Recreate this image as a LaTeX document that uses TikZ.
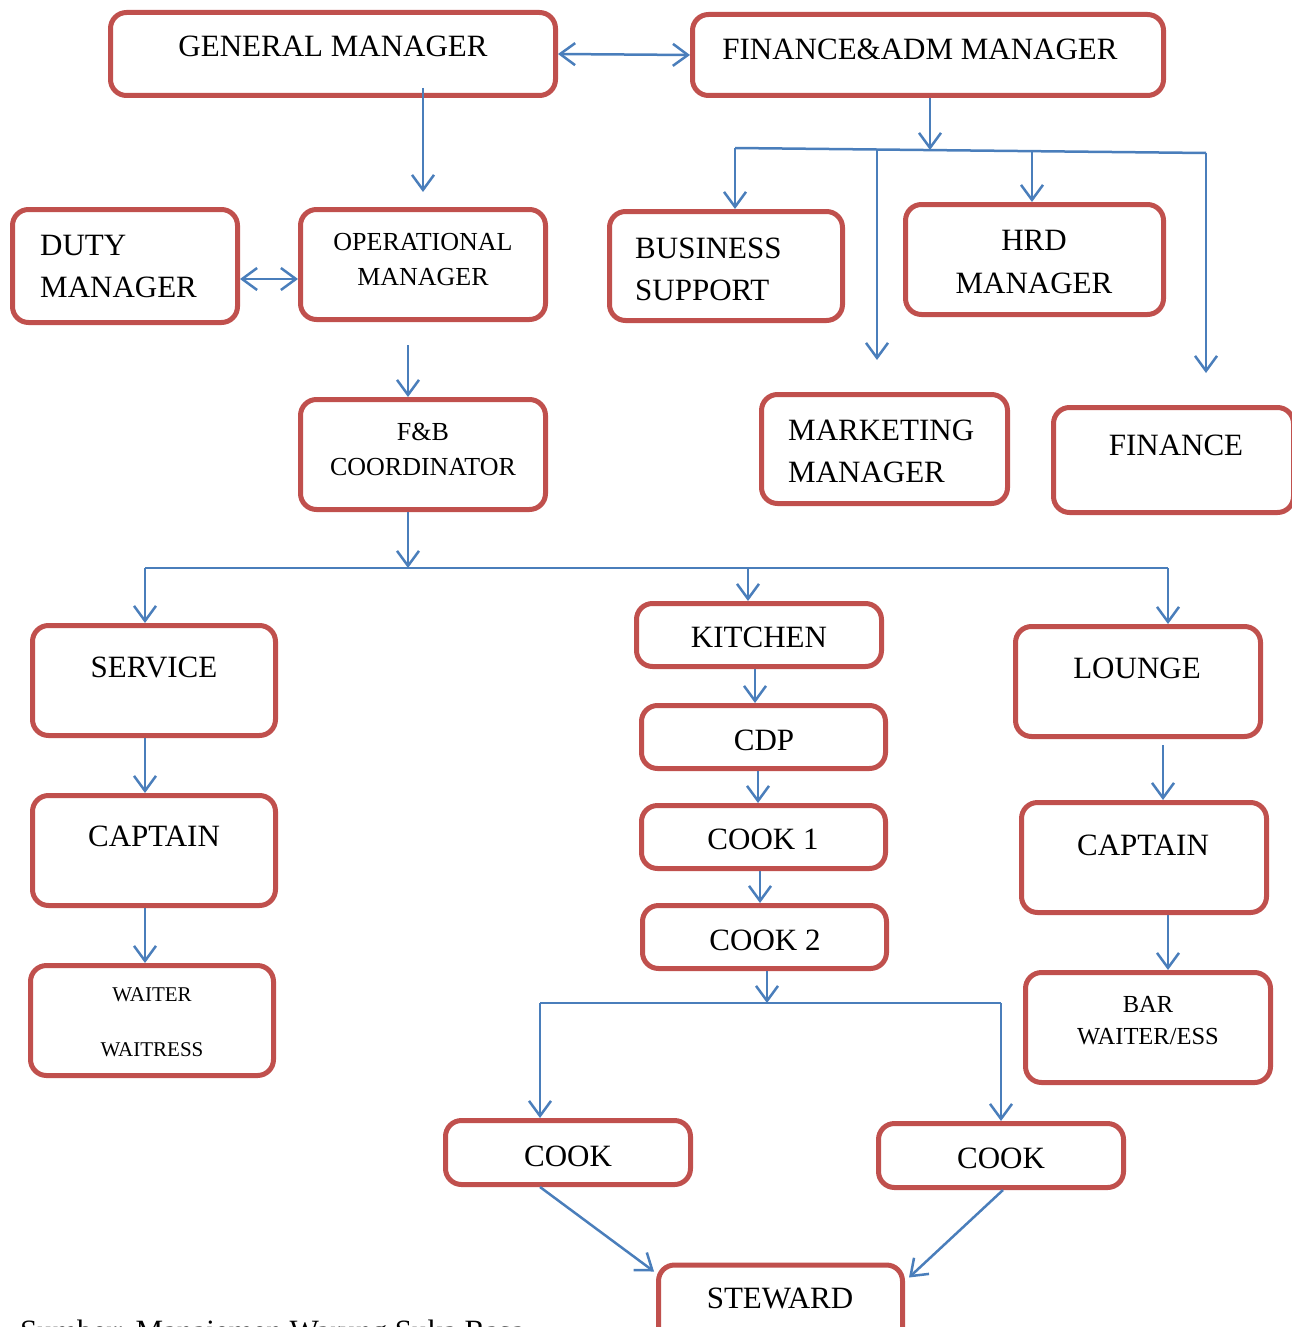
\documentclass[tikz,border=0pt]{standalone}
\usepackage{fontspec}
\setmainfont{Liberation Serif}
\usetikzlibrary{arrows.meta,calc}
\definecolor{boxred}{HTML}{C0504D}
\definecolor{arrblue}{HTML}{4A7EBB}
\tikzset{
  orgbox/.style={draw=boxred, line width=5pt, rounded corners=16pt, fill=white, inner sep=0pt},
  big/.style={inner sep=0pt, font=\fontsize{31}{37}\selectfont},
  mid/.style={inner sep=0pt, font=\fontsize{26}{31}\selectfont},
  small/.style={inner sep=0pt, font=\fontsize{21}{25}\selectfont},
  smallb/.style={inner sep=0pt, font=\fontsize{24.5}{29}\selectfont},
  link/.style={draw=arrblue, line width=2.5pt},
  linkarrow/.style={link, -{Straight Barb[length=15pt,width=22pt]}},
  linkboth/.style={link, {Straight Barb[length=15pt,width=22pt]}-{Straight Barb[length=15pt,width=22pt]}},
}
\begin{document}
\begin{tikzpicture}[x=1pt,y=-1pt]
\useasboundingbox (0,0) rectangle (1291,1327);

% ---------- boxes ----------
\node[orgbox, minimum width=445pt, minimum height=83pt] (gm) at (333,54) {};
\node[orgbox, minimum width=471pt, minimum height=81pt] (fin) at (928,55) {};
\node[orgbox, minimum width=225pt, minimum height=113pt] (dm) at (125,266) {};
\node[orgbox, minimum width=245pt, minimum height=110pt] (om) at (423,264.5) {};
\node[orgbox, minimum width=245pt, minimum height=110pt] (fb) at (423,454.5) {};
\node[orgbox, minimum width=233pt, minimum height=109pt] (bs) at (726,266) {};
\node[orgbox, minimum width=258pt, minimum height=110pt] (hrd) at (1034.5,259.5) {};
\node[orgbox, minimum width=246pt, minimum height=109pt] (mm) at (884.5,449) {};
\node[orgbox, minimum width=240pt, minimum height=105pt] (fi) at (1173.5,460) {};
\node[orgbox, minimum width=243pt, minimum height=110pt] (sv) at (154,680.5) {};
\node[orgbox, minimum width=243pt, minimum height=110pt] (capl) at (154,850.5) {};
\node[orgbox, minimum width=243pt, minimum height=110pt] (ww) at (152,1020.5) {};
\node[orgbox, minimum width=245pt, minimum height=63pt] (kit) at (759,635) {};
\node[orgbox, minimum width=244pt, minimum height=63pt] (cdp) at (763.5,737) {};
\node[orgbox, minimum width=244pt, minimum height=63pt] (ca) at (763.5,837) {};
\node[orgbox, minimum width=244pt, minimum height=63pt] (cb) at (764.5,937) {};
\node[orgbox, minimum width=245pt, minimum height=64pt] (cookl) at (568,1152.5) {};
\node[orgbox, minimum width=245pt, minimum height=64pt] (cookr) at (1001,1155.5) {};
\node[orgbox, minimum width=244pt, minimum height=80pt] (stw) at (780.5,1305) {};
\node[orgbox, minimum width=245pt, minimum height=110pt] (lou) at (1138,681.5) {};
\node[orgbox, minimum width=245pt, minimum height=110pt] (capr) at (1144,857.5) {};
\node[orgbox, minimum width=245pt, minimum height=110pt] (bar) at (1148,1027.5) {};

% ---------- texts ----------
\node[big, anchor=base] (gm-t) at (333,57) {GENERAL MANAGER};
\node[big, anchor=base] (fin-t) at (920,60) {FINANCE\&ADM MANAGER};
\node[big, anchor=base west] (dm-t1) at (40,255) {DUTY};
\node[big, anchor=base west] (dm-t2) at (40,297) {MANAGER};
\node[mid, anchor=base] (om-t1) at (423,250) {OPERATIONAL};
\node[mid, anchor=base] (om-t2) at (423,285) {MANAGER};
\node[mid, anchor=base] (fb-t1) at (423,440) {F\&B};
\node[mid, anchor=base] (fb-t2) at (423,475) {COORDINATOR};
\node[big, anchor=base west] (bs-t1) at (635,258) {BUSINESS};
\node[big, anchor=base west] (bs-t2) at (635,300) {SUPPORT};
\node[big, anchor=base] (hrd-t1) at (1034,250) {HRD};
\node[big, anchor=base] (hrd-t2) at (1034,293) {MANAGER};
\node[big, anchor=base west] (mm-t1) at (788,440) {MARKETING};
\node[big, anchor=base west] (mm-t2) at (788,482) {MANAGER};
\node[big, anchor=base] (fi-t) at (1176,455) {FINANCE};
\node[big, anchor=base] (sv-t) at (154,677) {SERVICE};
\node[big, anchor=base] (capl-t) at (154,846) {CAPTAIN};
\node[small, anchor=base] (ww-t1) at (152,1001) {WAITER};
\node[small, anchor=base] (ww-t2) at (152,1056) {WAITRESS};
\node[big, anchor=base] (kit-t) at (759,647) {KITCHEN};
\node[big, anchor=base] (cdp-t) at (764,750) {CDP};
\node[big, anchor=base] (ca-t) at (763,849) {COOK 1};
\node[big, anchor=base] (cb-t) at (765,950) {COOK 2};
\node[big, anchor=base] (cookl-t) at (568,1166) {COOK};
\node[big, anchor=base] (cookr-t) at (1001,1168) {COOK};
\node[big, anchor=base] (stw-t) at (780,1308) {STEWARD};
\node[big, anchor=base] (lou-t) at (1137,678) {LOUNGE};
\node[big, anchor=base] (capr-t) at (1143,855) {CAPTAIN};
\node[smallb, anchor=base] (bar-t1) at (1148,1012) {BAR};
\node[smallb, anchor=base] (bar-t2) at (1148,1044) {WAITER/ESS};
\node[big, anchor=base west] (src) at (20,1341) {Sumber: Manajemen Warung Suka Rasa};

% ---------- coordinates ----------
\coordinate (fa) at (735,148);
\coordinate (fbr) at (877,149.5);
\coordinate (fc) at (930,150);
\coordinate (fd) at (1032,151);
\coordinate (fe) at (1206,153);
\coordinate (mmArr) at (877,360);
\coordinate (fiArr) at (1206,373);
\coordinate (hm) at (408,568);
\coordinate (hl) at (145,568);
\coordinate (hk) at (748,568);
\coordinate (hr) at (1168,568);
\coordinate (kb) at (767,1003);
\coordinate (kl) at (540,1003);
\coordinate (kr) at (1001,1003);

% ---------- connectors ----------
\draw[linkboth] (gm.east) -- (fin.west);
\draw[linkarrow] ($(om.north |- gm.south)+(0,-10)$) -- ($(om.north)+(0,-15)$);
\draw[linkboth] ($(dm.east)+(0,13)$) -- ($(om.west)+(0,14.5)$);
\draw[linkarrow] ($(om.south)+(-15,23)$) -- ($(fb.north)+(-15,0)$);

\draw[linkarrow] (fc |- fin.south) -- (fc);
\draw[link] (fa) -- (fe);
\draw[linkarrow] (fa) -- (fa |- bs.north);
\draw[linkarrow] (fbr) -- (mmArr);
\draw[linkarrow] (fd) -- (fd |- hrd.north);
\draw[linkarrow] (fe) -- (fiArr);

\draw[linkarrow] (hm |- fb.south) -- (hm);
\draw[link] (hl) -- (hr);
\draw[linkarrow] (hl) -- (hl |- sv.north);
\draw[linkarrow] (hk) -- (hk |- kit.north);
\draw[linkarrow] (hr) -- (hr |- lou.north);

\draw[linkarrow] ($(sv.south)+(-9,0)$) -- ($(capl.north)+(-9,0)$);
\draw[linkarrow] ($(capl.south)+(-9,0)$) -- ($(ww.north)+(-7,0)$);

\draw[linkarrow] ($(kit.south)+(-4,0)$) -- ($(cdp.north)+(-8.5,0)$);
\draw[linkarrow] ($(cdp.south)+(-5.5,0)$) -- ($(ca.north)+(-5.5,0)$);
\draw[linkarrow] ($(ca.south)+(-3.5,0)$) -- ($(cb.north)+(-4.5,0)$);
\draw[linkarrow] (kb |- cb.south) -- (kb);
\draw[link] (kl) -- (kr);
\draw[linkarrow] (kl) -- (kl |- cookl.north);
\draw[linkarrow] (kr) -- (kr |- cookr.north);
\draw[linkarrow] ($(cookl.south)+(-28,0)$) -- ($(stw.north west)+(-2,9)$);
\draw[linkarrow] ($(cookr.south)+(2,0)$) -- ($(stw.north east)+(4,15)$);

\draw[linkarrow] ($(lou.south)+(25,6)$) -- ($(capr.north)+(19,0)$);
\draw[linkarrow] ($(capr.south)+(24,0)$) -- ($(bar.north)+(20,0)$);
\end{tikzpicture}
\end{document}
